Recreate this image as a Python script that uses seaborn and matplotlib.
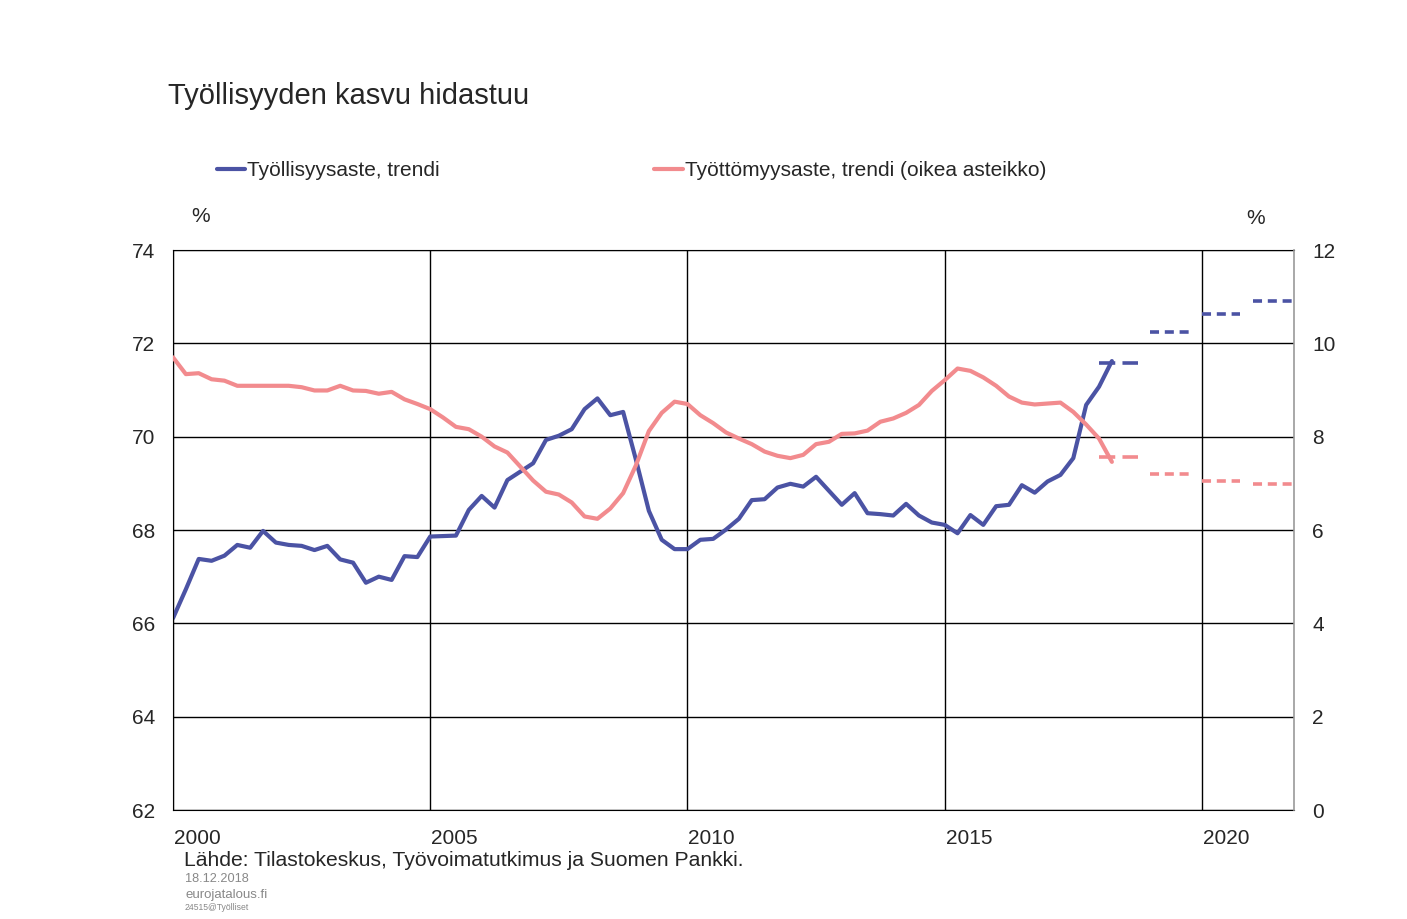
import numpy as np
import pandas as pd
import matplotlib
matplotlib.use("Agg")
import matplotlib.pyplot as plt
from matplotlib.lines import Line2D
import seaborn as sns

# Quarterly trend data 2000Q1 - 2018Q2
employment = [66.11, 66.73, 67.38, 67.34, 67.45, 67.68, 67.62, 67.98, 67.73, 67.68,
              67.66, 67.57, 67.66, 67.37, 67.30, 66.87, 67.00, 66.93, 67.44, 67.42,
              67.86, 67.87, 67.88, 68.43, 68.73, 68.48, 69.07, 69.25, 69.43, 69.93,
              70.02, 70.16, 70.59, 70.82, 70.46, 70.53, 69.50, 68.41, 67.79, 67.59,
              67.59, 67.79, 67.81, 68.01, 68.24, 68.64, 68.66, 68.91, 68.99, 68.93,
              69.14, 68.84, 68.54, 68.79, 68.36, 68.34, 68.31, 68.56, 68.31, 68.16,
              68.11, 67.93, 68.32, 68.11, 68.51, 68.54, 68.96, 68.80, 69.04, 69.18,
              69.54, 70.68, 71.07, 71.62]
unemployment = [9.70, 9.34, 9.36, 9.23, 9.20, 9.09, 9.09, 9.09, 9.09, 9.09,
                9.06, 8.99, 8.99, 9.09, 8.99, 8.98, 8.92, 8.96, 8.80, 8.70,
                8.59, 8.41, 8.21, 8.16, 8.00, 7.79, 7.66, 7.36, 7.06, 6.82,
                6.76, 6.59, 6.29, 6.24, 6.46, 6.79, 7.39, 8.12, 8.51, 8.75,
                8.70, 8.46, 8.29, 8.09, 7.96, 7.84, 7.68, 7.59, 7.54, 7.61,
                7.84, 7.89, 8.06, 8.07, 8.13, 8.32, 8.39, 8.51, 8.68, 8.98,
                9.21, 9.46, 9.41, 9.27, 9.09, 8.86, 8.73, 8.69, 8.71, 8.73,
                8.53, 8.26, 7.96, 7.46]

# Annual forecasts (Suomen Pankki)
fc_years = [2018, 2019, 2020, 2021]
emp_fc = [71.58, 72.24, 72.62, 72.91]
unemp_fc = [7.56, 7.21, 7.04, 6.99]

year_labels = ["2000", "2005", "2010", "2015", "2020"]

blue = "#4b53a4"
pink = "#f28b8e"

sns.set_style("white")
plt.rcParams["font.family"] = ["Liberation Sans", "DejaVu Sans"]

df = pd.DataFrame({"x": 2000 + np.arange(len(employment)) / 4,
                   "emp": employment, "unemp": unemployment})

fig = plt.figure(figsize=(14.07, 9.19), dpi=100)
ax = fig.add_axes([173 / 1407, 1 - 810 / 919, (1294 - 173) / 1407, (810 - 250) / 919])
ax2 = ax.twinx()

sns.lineplot(data=df, x="x", y="emp", ax=ax, color=blue, lw=3)
sns.lineplot(data=df, x="x", y="unemp", ax=ax2, color=pink, lw=3)

for i, yr in enumerate(fc_years):
    seg = pd.DataFrame({"x": yr + np.arange(4) / 4,
                        "emp": [emp_fc[i]] * 4, "unemp": [unemp_fc[i]] * 4})
    dash = (0, (4.5, 2)) if i == 0 else (0, (2.5, 1.6))
    sns.lineplot(data=seg, x="x", y="emp", ax=ax, color=blue, lw=2.6, linestyle=dash)
    sns.lineplot(data=seg, x="x", y="unemp", ax=ax2, color=pink, lw=2.6, linestyle=dash)

ax.set_xlim(2000, 2021.79)
ax.set_ylim(62, 74)
ax2.set_ylim(0, 12)
ax.set_yticks(range(62, 75, 2))
ax2.set_yticks(range(0, 13, 2))
ax.set_xticks([int(y) for y in year_labels])
ax.set_xticklabels([])
ax.set_xticks([int(y) + 0.47 for y in year_labels], minor=True)
ax.set_xticklabels(year_labels, minor=True)
ax.tick_params(axis="x", which="both", length=0)
ax.tick_params(axis="x", which="minor", labelsize=15, pad=14)
ax.tick_params(axis="y", length=0, labelsize=15, pad=13)
ax2.tick_params(axis="y", length=0, labelsize=15, pad=13)
ax.set_xlabel("")
ax.set_ylabel("")
ax2.set_ylabel("")
ax.grid(True, which="major", color="black", lw=1)
for s in ["left", "bottom", "top"]:
    ax.spines[s].set_color("black")
    ax2.spines[s].set_visible(False)
ax.spines["right"].set_visible(False)
ax2.spines["right"].set_color("#999999")
ax2.spines["right"].set_linewidth(1.2)

fig.text(168 / 1407, 1 - 96 / 919, "Työllisyyden kasvu hidastuu", fontsize=21, va="center", ha="left")
fig.text(201 / 1407, 1 - 216 / 919, "%", fontsize=15, va="center", ha="center")
fig.text(1256 / 1407, 1 - 219 / 919, "%", fontsize=15, va="center", ha="center")

handles = [Line2D([], [], color=blue, lw=3), Line2D([], [], color=pink, lw=3)]
fig.legend(handles, ["Työllisyysaste, trendi", "Työttömyysaste, trendi (oikea asteikko)"],
           loc="center left", bbox_to_anchor=(217 / 1407, 1 - 171 / 919), ncol=2,
           frameon=False, fontsize=15, handlelength=1.35, handletextpad=0.1,
           columnspacing=10.3, borderaxespad=0, borderpad=0)

fig.text(184 / 1407, 1 - 860 / 919, "Lähde: Tilastokeskus, Työvoimatutkimus ja Suomen Pankki.",
         fontsize=15.2, va="center", ha="left")
fig.text(185 / 1407, 1 - 879 / 919, "18.12.2018", fontsize=9.2, color="#888888", va="center", ha="left")
fig.text(185 / 1407, 1 - 895 / 919, "eurojatalous.fi", fontsize=9.5, color="#888888", va="center", ha="left")
fig.text(185 / 1407, 1 - 908 / 919, "24515@Työlliset", fontsize=6.2, color="#888888", va="center", ha="left")

fig.savefig("out.png", dpi=100)
